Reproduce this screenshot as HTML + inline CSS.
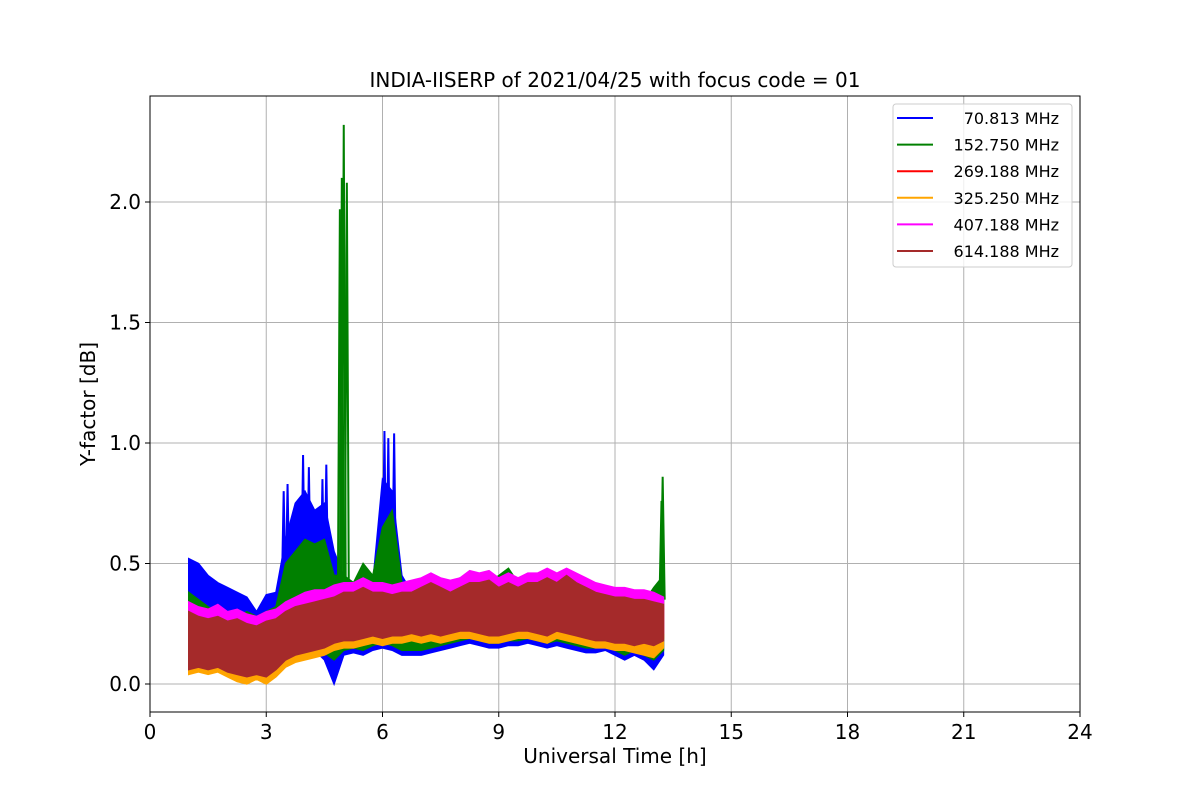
<!DOCTYPE html>
<html><head><meta charset="utf-8"><style>
body{margin:0;background:#fff}
svg{font-family:"DejaVu Sans","Liberation Sans",sans-serif}
</style></head><body>
<svg id="chart" width="1200" height="800" xmlns="http://www.w3.org/2000/svg">
<rect width="1200" height="800" fill="#fff"/>
<text x="615" y="87" font-size="20" text-anchor="middle">INDIA-IISERP of 2021/04/25 with focus code = 01</text>
<g id="grid"></g>
<g id="series"></g>
<rect x="150" y="96" width="930" height="616" fill="none" stroke="#000" stroke-width="1"/>
<g id="ticks" font-size="20"></g>
<text x="615" y="763" font-size="20" text-anchor="middle">Universal Time [h]</text>
<text x="95" y="404" font-size="20" text-anchor="middle" transform="rotate(-90 95 404)">Y-factor [dB]</text>
<g id="legend">
<rect x="893" y="104" width="179" height="163" rx="3" fill="#fff" fill-opacity="0.8" stroke="#ccc"/>
</g>
</svg>
<script>
const xTicks=[0,3,6,9,12,15,18,21,24];
const yTicks=[0.0,0.5,1.0,1.5,2.0];
const yTickLabels=["0.0","0.5","1.0","1.5","2.0"];
const seriesNames=[" 70.813 MHz","152.750 MHz","269.188 MHz","325.250 MHz","407.188 MHz","614.188 MHz"];
const seriesColors=["#0000ff","#008000","#ff0000","#ffa500","#ff00ff","#a52a2a"];
const startTime=1.0, stepTime=0.25;
const blueHi=[.52,.5,.45,.42,.4,.38,.36,.3,.37,.38,.6,.75,.8,.72,.75,.55,.45,.42,.4,.42,.85,.8,.45,.38,.4,.38,.4,.4,.42,.45,.42,.4,.38,.4,.42,.4,.4,.42,.43,.45,.42,.4,.38,.36,.35,.34,.35,.34,.38,.4];
const blueLo=[.05,.08,.06,.1,.08,.05,.04,.03,.02,.05,.08,.12,.12,.14,.1,0.0,.12,.13,.12,.14,.15,.14,.12,.12,.12,.13,.14,.15,.16,.17,.16,.15,.15,.16,.16,.17,.16,.15,.16,.15,.14,.13,.13,.14,.12,.1,.12,.1,.06,.12];
const greenHi=[.38,.35,.32,.3,.3,.28,.3,.28,.3,.32,.5,.55,.6,.58,.6,.45,.45,.42,.5,.45,.65,.72,.42,.4,.4,.38,.4,.42,.44,.45,.42,.42,.45,.48,.42,.45,.4,.42,.45,.45,.42,.4,.38,.36,.35,.34,.35,.34,.4,.45];
const greenLo=[.08,.1,.09,.12,.1,.08,.06,.05,.05,.08,.1,.14,.14,.16,.13,.1,.14,.15,.14,.16,.17,.16,.14,.14,.14,.15,.16,.17,.18,.19,.18,.17,.17,.18,.18,.19,.18,.17,.18,.17,.16,.15,.15,.16,.14,.12,.14,.12,.1,.14];
const redHi=[.28,.27,.26,.27,.25,.26,.24,.23,.25,.26,.29,.31,.32,.33,.34,.35,.37,.37,.39,.37,.37,.36,.37,.37,.39,.41,.39,.37,.39,.41,.41,.42,.39,.41,.39,.41,.41,.43,.41,.44,.41,.39,.37,.36,.35,.35,.34,.34,.33,.32];
const redLo=[.07,.08,.07,.08,.06,.05,.04,.05,.04,.07,.11,.13,.14,.15,.16,.18,.19,.19,.2,.21,.2,.21,.21,.22,.21,.22,.21,.22,.23,.23,.22,.21,.21,.22,.23,.23,.22,.21,.23,.22,.21,.2,.19,.19,.18,.18,.17,.18,.17,.19];
const orangeHi=[.3,.29,.27,.28,.27,.26,.25,.24,.26,.28,.3,.32,.33,.35,.35,.37,.38,.39,.4,.39,.38,.38,.39,.38,.4,.42,.41,.39,.4,.42,.43,.43,.41,.42,.41,.42,.43,.44,.43,.45,.42,.41,.39,.38,.37,.36,.36,.35,.34,.34];
const orangeLo=[.04,.05,.04,.05,.03,.01,.0,.02,.0,.03,.07,.09,.1,.11,.12,.14,.15,.15,.16,.17,.16,.17,.17,.18,.17,.18,.17,.18,.19,.19,.18,.17,.17,.18,.19,.19,.18,.17,.19,.18,.17,.16,.15,.15,.14,.14,.13,.12,.11,.15];
const magentaHi=[.34,.32,.31,.33,.3,.31,.29,.28,.3,.31,.34,.36,.38,.39,.39,.41,.42,.42,.44,.42,.42,.41,.42,.43,.44,.46,.44,.43,.44,.47,.46,.47,.44,.46,.44,.46,.46,.48,.46,.48,.46,.44,.42,.41,.4,.4,.39,.39,.38,.36];
const magentaLo=[.09,.1,.09,.1,.08,.07,.06,.07,.06,.09,.13,.15,.16,.17,.18,.2,.21,.21,.22,.23,.22,.23,.23,.24,.23,.24,.23,.24,.25,.25,.24,.23,.23,.24,.25,.25,.24,.23,.25,.24,.23,.22,.21,.21,.2,.2,.19,.2,.19,.21];
const brownHi=[.3,.28,.27,.28,.26,.27,.25,.24,.26,.27,.3,.32,.33,.34,.35,.36,.38,.38,.4,.38,.38,.37,.38,.38,.4,.42,.4,.38,.4,.42,.42,.43,.4,.42,.4,.42,.42,.44,.42,.45,.42,.4,.38,.37,.36,.36,.35,.35,.34,.33];
const brownLo=[.06,.07,.06,.07,.05,.04,.03,.04,.03,.06,.1,.12,.13,.14,.15,.17,.18,.18,.19,.2,.19,.2,.2,.21,.2,.21,.2,.21,.22,.22,.21,.2,.2,.21,.22,.22,.21,.2,.22,.21,.2,.19,.18,.18,.17,.17,.16,.17,.16,.18];
const blueSpikeT=[3.45,3.55,3.95,4.1,4.45,4.55,6.05,6.15,6.3];
const blueSpikeV=[.8,.83,.95,.9,.85,.91,1.05,1.02,1.04];
const greenSpikeT=[4.9,4.95,5.0,5.08,13.2,13.23];
const greenSpikeV=[1.97,2.1,2.32,2.08,.76,.86];

const NS="http://www.w3.org/2000/svg";
const X0=150,X1=1080,XMAX=24,Y0px=684,YPX=241;
function x(t){return X0+(X1-X0)*t/XMAX;}
function y(v){return Y0px-YPX*v;}
function mk(tag,attrs,parent){const e=document.createElementNS(NS,tag);for(const k in attrs)e.setAttribute(k,attrs[k]);parent.appendChild(e);return e;}
const grid=document.getElementById('grid'),ticks=document.getElementById('ticks'),ser=document.getElementById('series'),leg=document.getElementById('legend');
xTicks.forEach(t=>{
  const g=mk('line',{x1:x(t),x2:x(t),y1:96,y2:712,stroke:'#b0b0b0','stroke-width':1},grid);
  
  
  mk('line',{x1:x(t),x2:x(t),y1:712,y2:717,stroke:'#000'},ticks);
  const l=mk('text',{x:x(t),y:739,'text-anchor':'middle'},ticks);l.textContent=String(t);
  
  
});
yTicks.forEach((v,i)=>{
  const g=mk('line',{x1:150,x2:1080,y1:y(v),y2:y(v),stroke:'#b0b0b0','stroke-width':1},grid);
  
  
  mk('line',{x1:145,x2:150,y1:y(v),y2:y(v),stroke:'#000'},ticks);
  const l=mk('text',{x:141,y:y(v)+7,'text-anchor':'end'},ticks);l.textContent=yTickLabels[i];
  
  
});
const all=[[blueLo,blueHi],[greenLo,greenHi],[redLo,redHi],[orangeLo,orangeHi],[magentaLo,magentaHi],[brownLo,brownHi]];
const spikes=[[blueSpikeT,blueSpikeV],[greenSpikeT,greenSpikeV],null,null,null,null];
all.forEach((s,k)=>{
  const lo=s[0],hi=s[1];let top=[],bot=[];
  for(let i=0;i<lo.length;i++){
    const t=startTime+stepTime*i;
    top.push(x(t)+','+y(hi[i]));
    bot.unshift(x(t)+','+y(lo[i]));
  }
  const p=mk('polygon',{points:top.concat(bot).join(' '),fill:seriesColors[k],stroke:seriesColors[k],'stroke-width':1.5,'stroke-linejoin':'miter'},ser);
  
  
  if(spikes[k]){
    const [st,sv]=spikes[k];
    st.forEach((t,j)=>{
      const sp=mk('polyline',{points:`${x(t)-2},${y(0.35)} ${x(t)},${y(sv[j])} ${x(t)+2},${y(0.35)}`,fill:'none',stroke:seriesColors[k],'stroke-width':2},ser);
      
      
    });
  }
});
seriesNames.forEach((n,k)=>{
  const yy=118+26.6*k;
  const ln=mk('line',{x1:897,x2:933,y1:yy,y2:yy,stroke:seriesColors[k],'stroke-width':2},leg);
  
  
  const t=mk('text',{x:1059,y:yy+6,'font-size':16,'text-anchor':'end'},leg);t.textContent=n;
  
  
});
</script>
</body></html>
